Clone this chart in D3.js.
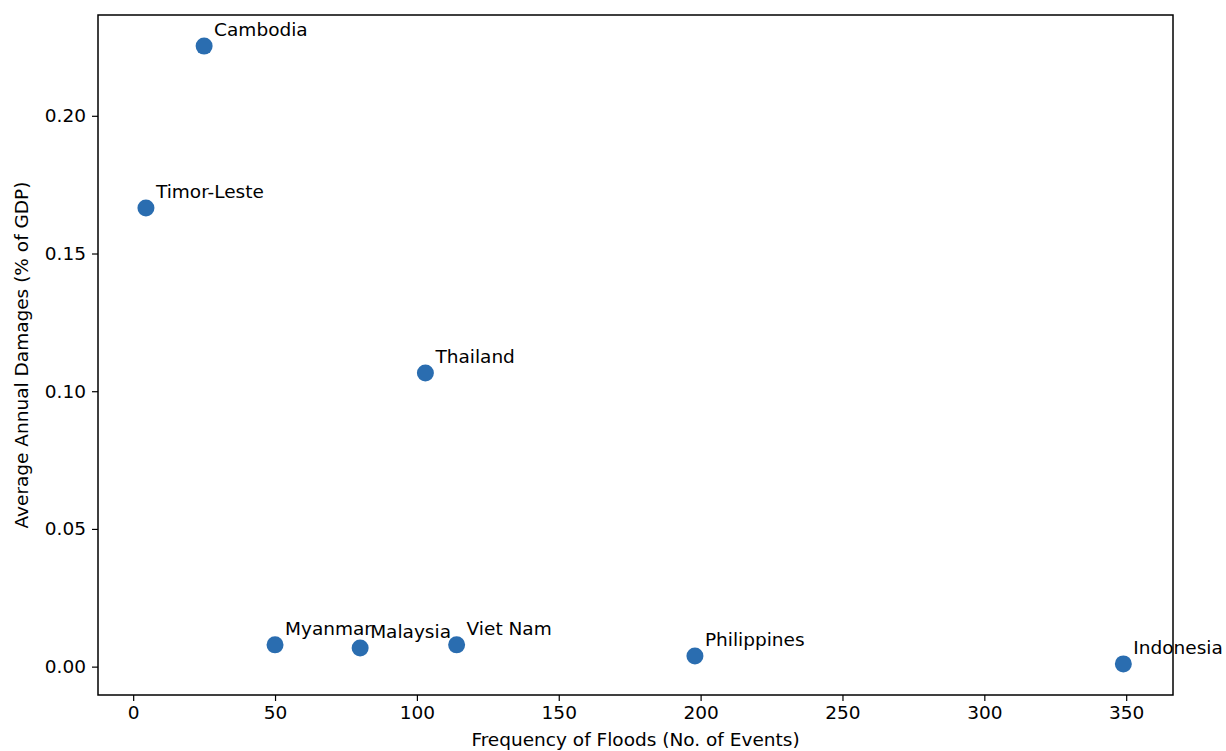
<!DOCTYPE html>
<html>
<head>
<meta charset="utf-8">
<script src="https://cdn.jsdelivr.net/npm/d3@7"></script>
<style>
  body { margin: 0; background: #fff; }
  svg { display: block; font-family: "DejaVu Sans", sans-serif; }
</style>
</head>
<body>
<svg></svg>
<script>
const countries = ["Cambodia", "Timor-Leste", "Thailand", "Myanmar", "Malaysia", "Viet Nam", "Philippines", "Indonesia"];
const floodCounts = [25, 4.5, 103, 50, 80, 114, 198, 349];
const damages = [0.2253, 0.1665, 0.1066, 0.0079, 0.0068, 0.0079, 0.0039, 0.0010];
const xTicks = [0, 50, 100, 150, 200, 250, 300, 350];
const yTicks = [0, 0.05, 0.10, 0.15, 0.20];

const width = 1226, height = 751;
const margin = {left: 98, right: 53, top: 15, bottom: 56};

const svg = d3.select("svg")
  .attr("width", width)
  .attr("height", height);

const x = d3.scaleLinear()
  .domain([-12.4, 366.5])
  .range([margin.left, width - margin.right]);

const y = d3.scaleLinear()
  .domain([-0.0103, 0.2366])
  .range([height - margin.bottom, margin.top]);

const fontSize = 18.5;

// axes
const xAxis = svg.append("g")
  .attr("transform", `translate(0,${height - margin.bottom})`)
  .call(d3.axisBottom(x).tickValues(xTicks).tickFormat(d3.format("d")).tickSize(6).tickPadding(5));

const yAxis = svg.append("g")
  .attr("transform", `translate(${margin.left},0)`)
  .call(d3.axisLeft(y).tickValues(yTicks).tickFormat(d3.format(".2f")).tickSize(6).tickPadding(6));

[xAxis, yAxis].forEach(g => {
  g.select(".domain").remove();
  g.selectAll("line").attr("stroke", "#000").attr("stroke-width", 1.2);
  g.selectAll("text").attr("font-size", fontSize).attr("fill", "#000")
    .attr("font-family", "DejaVu Sans, sans-serif");
});

// frame
svg.append("rect")
  .attr("x", margin.left)
  .attr("y", margin.top)
  .attr("width", width - margin.left - margin.right)
  .attr("height", height - margin.top - margin.bottom)
  .attr("fill", "none")
  .attr("stroke", "#000")
  .attr("stroke-width", 1.5);

// points
const pts = countries.map((c, i) => ({name: c, fx: floodCounts[i], dmg: damages[i]}));

svg.append("g").selectAll("circle")
  .data(pts)
  .join("circle")
  .attr("cx", d => x(d.fx))
  .attr("cy", d => y(d.dmg))
  .attr("r", 8.5)
  .attr("fill", "#2a6db0");

svg.append("g").selectAll("text")
  .data(pts)
  .join("text")
  .attr("x", d => x(d.fx) + 10)
  .attr("y", d => y(d.dmg) - 10)
  .attr("font-size", fontSize)
  .attr("fill", "#000")
  .text(d => d.name);

// axis labels
svg.append("text")
  .attr("x", (margin.left + width - margin.right) / 2)
  .attr("y", 746)
  .attr("text-anchor", "middle")
  .attr("font-size", fontSize)
  .text("Frequency of Floods (No. of Events)");

svg.append("text")
  .attr("transform", `translate(28,${(margin.top + height - margin.bottom) / 2}) rotate(-90)`)
  .attr("text-anchor", "middle")
  .attr("font-size", fontSize)
  .text("Average Annual Damages (% of GDP)");
</script>
</body>
</html>
